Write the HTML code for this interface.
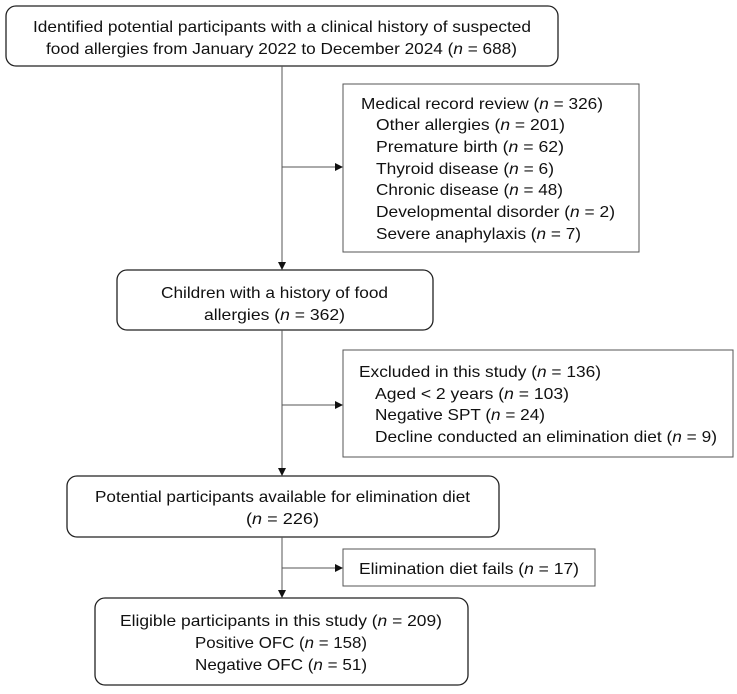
<!DOCTYPE html>
<html><head><meta charset="utf-8"><style>
html,body{margin:0;padding:0;background:#fff;}
svg{display:block;}
text{font-family:"Liberation Sans","DejaVu Sans",sans-serif;font-size:16px;fill:#111;}
</style></head><body>
<svg width="737" height="694" viewBox="0 0 737 694" xmlns="http://www.w3.org/2000/svg">
<defs><marker id="a" markerWidth="8" markerHeight="8" refX="7" refY="4" orient="auto" markerUnits="userSpaceOnUse"><path d="M0,0 L8,4 L0,8 z" fill="#111"/></marker></defs>
<g fill="none" stroke="#222" stroke-width="1.3">
<rect x="6" y="6" width="552" height="60" rx="10"/>
<rect x="343" y="84" width="296" height="168" stroke="#555" stroke-width="1"/>
<rect x="117" y="270" width="316" height="60" rx="10"/>
<rect x="343" y="350" width="390" height="107" stroke="#555" stroke-width="1"/>
<rect x="67" y="476" width="432" height="61" rx="10"/>
<rect x="343" y="549" width="252" height="37" stroke="#555" stroke-width="1"/>
<rect x="95" y="598" width="373" height="87" rx="10"/>
</g>
<g stroke="#555" stroke-width="1" fill="none">
<line x1="282" y1="66" x2="282" y2="269" marker-end="url(#a)"/>
<line x1="282" y1="167" x2="342" y2="167" marker-end="url(#a)"/>
<line x1="282" y1="330" x2="282" y2="475" marker-end="url(#a)"/>
<line x1="282" y1="405" x2="342" y2="405" marker-end="url(#a)"/>
<line x1="282" y1="537" x2="282" y2="597" marker-end="url(#a)"/>
<line x1="282" y1="568" x2="342" y2="568" marker-end="url(#a)"/>
</g>
<text x="33" y="32" textLength="498" lengthAdjust="spacingAndGlyphs">Identified potential participants with a clinical history of suspected</text>
<text x="46" y="54" textLength="471" lengthAdjust="spacingAndGlyphs">food allergies from January 2022 to December 2024 (<tspan font-style="italic">n</tspan> = 688)</text>
<text x="361" y="109" textLength="242" lengthAdjust="spacingAndGlyphs">Medical record review (<tspan font-style="italic">n</tspan> = 326)</text>
<text x="376" y="130" textLength="189" lengthAdjust="spacingAndGlyphs">Other allergies (<tspan font-style="italic">n</tspan> = 201)</text>
<text x="376" y="152" textLength="188" lengthAdjust="spacingAndGlyphs">Premature birth (<tspan font-style="italic">n</tspan> = 62)</text>
<text x="376" y="174" textLength="178" lengthAdjust="spacingAndGlyphs">Thyroid disease (<tspan font-style="italic">n</tspan> = 6)</text>
<text x="376" y="195" textLength="187" lengthAdjust="spacingAndGlyphs">Chronic disease (<tspan font-style="italic">n</tspan> = 48)</text>
<text x="376" y="217" textLength="239" lengthAdjust="spacingAndGlyphs">Developmental disorder (<tspan font-style="italic">n</tspan> = 2)</text>
<text x="376" y="239" textLength="205" lengthAdjust="spacingAndGlyphs">Severe anaphylaxis (<tspan font-style="italic">n</tspan> = 7)</text>
<text x="161" y="298" textLength="227" lengthAdjust="spacingAndGlyphs">Children with a history of food</text>
<text x="204" y="320" textLength="141" lengthAdjust="spacingAndGlyphs">allergies (<tspan font-style="italic">n</tspan> = 362)</text>
<text x="359" y="377" textLength="242" lengthAdjust="spacingAndGlyphs">Excluded in this study (<tspan font-style="italic">n</tspan> = 136)</text>
<text x="375" y="399" textLength="194" lengthAdjust="spacingAndGlyphs">Aged &lt; 2 years (<tspan font-style="italic">n</tspan> = 103)</text>
<text x="375" y="420" textLength="170" lengthAdjust="spacingAndGlyphs">Negative SPT (<tspan font-style="italic">n</tspan> = 24)</text>
<text x="375" y="442" textLength="342" lengthAdjust="spacingAndGlyphs">Decline conducted an elimination diet (<tspan font-style="italic">n</tspan> = 9)</text>
<text x="95" y="502" textLength="375" lengthAdjust="spacingAndGlyphs">Potential participants available for elimination diet</text>
<text x="246" y="524" textLength="73" lengthAdjust="spacingAndGlyphs">(<tspan font-style="italic">n</tspan> = 226)</text>
<text x="359" y="574" textLength="220" lengthAdjust="spacingAndGlyphs">Elimination diet fails (<tspan font-style="italic">n</tspan> = 17)</text>
<text x="120" y="626" textLength="322" lengthAdjust="spacingAndGlyphs">Eligible participants in this study (<tspan font-style="italic">n</tspan> = 209)</text>
<text x="195" y="648" textLength="172" lengthAdjust="spacingAndGlyphs">Positive OFC (<tspan font-style="italic">n</tspan> = 158)</text>
<text x="195" y="670" textLength="172" lengthAdjust="spacingAndGlyphs">Negative OFC (<tspan font-style="italic">n</tspan> = 51)</text>
</svg>
</body></html>
